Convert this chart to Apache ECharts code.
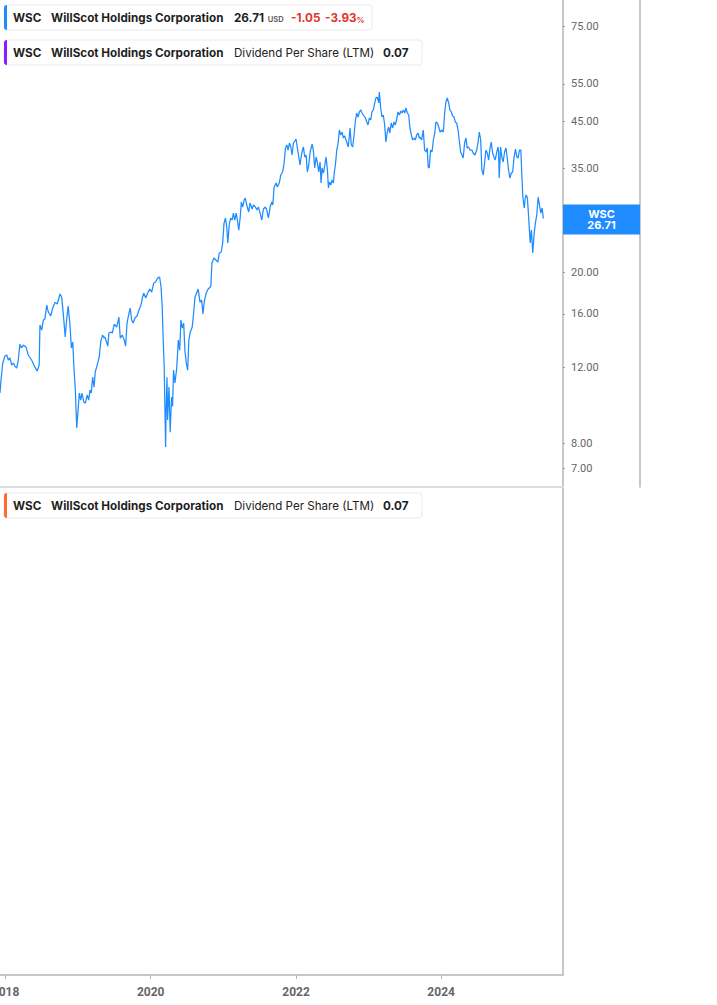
<!DOCTYPE html>
<html><head><meta charset="utf-8">
<script src="https://cdn.jsdelivr.net/npm/echarts@6/dist/echarts.min.js"></script>
<style>html,body{margin:0;padding:0;background:#fff;}#chart{width:717px;height:1005px;}</style>
</head><body><div id="chart"></div>
<script>
const ticker = 'WSC';
const companyName = 'WillScot Holdings Corporation';
const currency = 'USD';
const priceChange = -1.05;
const pctChange = -3.93;
const metricName = 'Dividend Per Share (LTM)';
const dividendLTM = 0.07;
const yTickValues = [75, 55, 45, 35, 25, 20, 16, 12, 8, 7];
const xTickLabels = ['2018', '2020', '2022', '2024'];
const xRange = ['2017-12-04', '2025-09-05'];
const yRange = [6.325, 86.23];

const dates = [
'2017-12-04','2017-12-09','2017-12-18','2017-12-29','2018-01-07','2018-01-15','2018-01-23','2018-02-01','2018-02-09','2018-02-17',
'2018-02-26','2018-03-06','2018-03-14','2018-03-22','2018-03-31','2018-04-14','2018-04-25','2018-05-12','2018-05-29','2018-06-09',
'2018-06-19','2018-06-23','2018-07-02','2018-07-10','2018-07-18','2018-07-27','2018-08-04','2018-08-16','2018-08-26','2018-09-07',
'2018-09-18','2018-10-02','2018-10-10','2018-10-18','2018-10-28','2018-11-04','2018-11-12','2018-11-21','2018-11-28','2018-12-05',
'2018-12-11','2018-12-18','2018-12-25','2018-12-31','2019-01-07','2019-01-14','2019-01-20','2019-01-30','2019-02-06','2019-02-16',
'2019-02-23','2019-03-02','2019-03-08','2019-03-15','2019-03-22','2019-03-28','2019-04-07','2019-04-17','2019-04-26','2019-05-04',
'2019-05-11','2019-05-16','2019-05-30','2019-06-05','2019-06-15','2019-06-22','2019-07-02','2019-07-14','2019-07-25','2019-08-01',
'2019-08-11','2019-08-21','2019-08-28','2019-09-04','2019-09-14','2019-09-20','2019-09-27','2019-10-05','2019-10-14','2019-10-24',
'2019-11-03','2019-11-13','2019-11-20','2019-11-27','2019-12-07','2019-12-17','2019-12-27','2020-01-06','2020-01-16','2020-01-26',
'2020-02-05','2020-02-15','2020-02-22','2020-02-28','2020-03-04','2020-03-09','2020-03-13','2020-03-16','2020-03-19','2020-03-23',
'2020-03-26','2020-04-02','2020-04-08','2020-04-15','2020-04-20','2020-04-25','2020-05-02','2020-05-11','2020-05-19','2020-05-26',
'2020-06-01','2020-06-08','2020-06-15','2020-06-21','2020-06-28','2020-07-05','2020-07-11','2020-07-18','2020-07-28','2020-08-04',
'2020-08-11','2020-08-21','2020-08-27','2020-09-05','2020-09-13','2020-09-20','2020-09-26','2020-10-06','2020-10-16','2020-10-27',
'2020-10-30','2020-11-04','2020-11-14','2020-11-24','2020-12-04','2020-12-11','2020-12-21','2020-12-28','2021-01-04','2021-01-11',
'2021-01-18','2021-01-23','2021-01-31','2021-02-07','2021-02-14','2021-02-20','2021-02-27','2021-03-06','2021-03-12','2021-03-19',
'2021-03-26','2021-04-01','2021-04-08','2021-04-15','2021-04-21','2021-04-28','2021-05-08','2021-05-15','2021-05-25','2021-06-01',
'2021-06-11','2021-06-18','2021-06-26','2021-07-04','2021-07-13','2021-07-21','2021-07-31','2021-08-07','2021-08-15','2021-08-24',
'2021-09-01','2021-09-06','2021-09-13','2021-09-23','2021-09-29','2021-10-09','2021-10-16','2021-10-26','2021-11-02','2021-11-09',
'2021-11-16','2021-11-22','2021-11-29','2021-12-06','2021-12-12','2021-12-19','2021-12-26','2022-01-01','2022-01-08','2022-01-15',
'2022-01-21','2022-01-30','2022-02-07','2022-02-14','2022-02-21','2022-02-27','2022-03-06','2022-03-13','2022-03-23','2022-03-29',
'2022-04-05','2022-04-12','2022-04-18','2022-04-25','2022-05-02','2022-05-07','2022-05-12','2022-05-19','2022-05-26','2022-06-01',
'2022-06-08','2022-06-13','2022-06-18','2022-06-25','2022-07-01','2022-07-08','2022-07-13','2022-07-18','2022-07-25','2022-08-01',
'2022-08-07','2022-08-14','2022-08-21','2022-08-27','2022-09-03','2022-09-13','2022-09-21','2022-09-30','2022-10-06','2022-10-13',
'2022-10-20','2022-10-26','2022-11-02','2022-11-09','2022-11-16','2022-11-23','2022-11-29','2022-12-06','2022-12-16','2022-12-23',
'2022-12-29','2023-01-05','2023-01-12','2023-01-18','2023-01-25','2023-02-01','2023-02-07','2023-02-14','2023-02-21','2023-02-24',
'2023-03-03','2023-03-09','2023-03-16','2023-03-23','2023-03-29','2023-04-05','2023-04-12','2023-04-18','2023-04-25','2023-05-02',
'2023-05-09','2023-05-15','2023-05-22','2023-05-29','2023-06-05','2023-06-12','2023-06-18','2023-06-25','2023-07-02','2023-07-08',
'2023-07-15','2023-07-22','2023-07-28','2023-08-04','2023-08-11','2023-08-18','2023-08-24','2023-08-31','2023-09-07','2023-09-13',
'2023-09-17','2023-09-25','2023-10-03','2023-10-10','2023-10-17','2023-10-23','2023-10-28','2023-11-02','2023-11-09','2023-11-16',
'2023-11-23','2023-11-30','2023-12-06','2023-12-13','2023-12-20','2023-12-27','2024-01-05','2024-01-12','2024-01-19','2024-01-25',
'2024-02-01','2024-02-08','2024-02-14','2024-02-21','2024-02-28','2024-03-06','2024-03-12','2024-03-19','2024-03-26','2024-04-01',
'2024-04-08','2024-04-15','2024-04-21','2024-04-28','2024-05-05','2024-05-11','2024-05-18','2024-05-25','2024-06-04','2024-06-10',
'2024-06-19','2024-06-28','2024-07-04','2024-07-11','2024-07-18','2024-07-24','2024-07-31','2024-08-07','2024-08-13','2024-08-20',
'2024-08-27','2024-09-03','2024-09-09','2024-09-16','2024-09-23','2024-09-29','2024-10-06','2024-10-13','2024-10-16','2024-10-19',
'2024-10-26','2024-11-02','2024-11-08','2024-11-15','2024-11-22','2024-11-28','2024-12-05','2024-12-12','2024-12-19','2024-12-26',
'2025-01-02','2025-01-09','2025-01-16','2025-01-22','2025-01-29','2025-02-05','2025-02-10','2025-02-15','2025-02-22','2025-02-27',
'2025-03-04','2025-03-10','2025-03-17','2025-03-24','2025-03-30','2025-04-06','2025-04-13','2025-04-19','2025-04-26','2025-05-03',
'2025-05-09','2025-05-16','2025-05-23','2025-05-29'
];
const prices = [
10.47,11.22,12.30,12.77,12.84,12.50,12.64,12.16,12.30,12.10,
11.97,12.50,13.61,13.33,13.54,13.40,12.84,12.50,12.03,11.78,
12.16,15.08,14.68,15.49,15.57,16.78,16.17,15.83,16.52,17.05,
16.87,17.81,17.52,16.08,14.14,15.49,16.69,15.08,13.33,13.76,
11.97,10.64,8.68,9.45,10.47,10.08,10.47,9.97,9.92,10.36,
10.08,10.64,10.47,11.40,10.81,11.72,12.16,12.70,13.91,14.29,
14.06,14.14,13.47,14.45,14.52,14.45,15.16,14.92,15.74,14.06,
14.29,13.91,13.47,15.24,16.08,16.52,15.49,15.24,15.66,15.83,
16.34,16.78,17.43,17.90,17.43,17.90,18.29,18.00,18.89,18.99,
19.40,19.51,18.49,16.60,13.91,12.03,9.40,7.84,9.71,11.40,
9.06,10.81,8.49,10.25,9.76,11.84,11.05,11.97,13.91,13.18,
15.49,14.84,15.24,13.18,12.30,11.84,13.91,14.52,14.92,16.08,
17.52,18.00,18.29,17.05,17.24,16.00,17.05,17.90,18.29,18.49,
18.69,21.03,21.60,21.37,21.14,22.19,22.31,23.41,26.06,26.78,
25.38,23.41,26.06,26.78,26.49,27.50,26.49,27.50,26.49,25.10,
26.78,29.18,28.40,29.49,29.81,28.71,27.65,29.02,28.10,28.71,
28.40,27.95,28.40,27.50,26.49,28.10,28.40,27.95,26.78,28.40,
29.18,28.71,31.62,32.30,31.62,32.30,33.72,34.27,35.94,38.97,
39.61,38.56,40.04,39.19,37.54,40.04,40.47,40.91,38.97,37.14,
35.58,37.95,39.19,37.14,37.54,34.27,35.58,38.15,39.82,38.56,
35.02,37.14,36.16,34.27,36.16,32.30,35.02,34.09,35.58,37.14,
34.64,31.45,32.47,31.96,32.83,32.30,34.27,35.58,38.56,40.04,
42.93,41.80,42.47,41.13,41.58,40.25,39.19,43.40,39.61,39.19,
41.80,44.82,47.03,46.03,47.29,47.80,47.03,46.53,45.79,44.82,
44.10,45.79,45.30,47.29,47.80,49.63,50.97,51.24,49.63,52.64,
48.31,46.03,46.53,44.10,40.25,42.47,43.63,42.24,44.58,43.40,
44.82,44.10,45.30,47.29,46.53,47.55,47.03,47.80,47.03,48.31,
47.03,46.53,43.40,41.80,40.69,41.13,40.69,41.80,42.24,41.13,
41.35,40.69,42.93,38.56,38.15,38.97,35.20,35.02,38.56,38.15,
40.69,42.24,44.82,44.58,43.63,42.47,42.93,42.47,47.29,49.90,
50.97,49.63,47.80,47.29,46.28,46.03,44.82,44.58,42.93,40.69,
38.15,37.54,36.94,40.04,41.13,38.97,39.19,38.56,38.56,37.95,
37.54,38.56,40.04,42.47,40.69,34.64,33.72,36.16,38.56,37.95,
36.55,38.97,40.25,37.95,37.14,36.55,37.95,39.19,38.15,33.18,
39.19,36.94,36.16,38.15,38.97,37.14,34.64,33.18,34.09,34.27,
37.14,38.76,37.14,36.94,38.56,38.56,33.72,29.97,28.25,29.81,
30.29,29.81,26.49,23.41,25.10,22.19,24.70,26.06,27.21,29.97,
28.87,27.50,28.25,26.71
];

const lineColor = '#1e8cff';
const axisGray = '#b5b5b5';
const labelGray = '#666666';
const toTime = s => Date.parse(s.length === 4 ? s + '-01-01' : s);
const yearTicks = xTickLabels.map(toTime);
const xMin = toTime(xRange[0]);
const xMax = toTime(xRange[1]);
const lastPrice = prices[prices.length - 1];

const chart = echarts.init(document.getElementById('chart'), null, { renderer: 'svg', width: 717, height: 1005 });

chart.setOption({
  animation: false,
  backgroundColor: '#ffffff',
  grid: [
    { left: 0, top: 0, width: 563, height: 487, containLabel: false, outerBoundsMode: 'none' },
    { left: 0, top: 487, width: 563, height: 488, containLabel: false, outerBoundsMode: 'none' }
  ],
  xAxis: [
    { type: 'value', gridIndex: 0, min: xMin, max: xMax,
      axisLine: { show: true, lineStyle: { color: '#dddddd', width: 2 } },
      axisTick: { show: false }, axisLabel: { show: false }, splitLine: { show: false } },
    { type: 'value', gridIndex: 1, min: xMin, max: xMax,
      axisLine: { show: true, lineStyle: { color: axisGray, width: 1.5 } },
      axisTick: { show: true, customValues: yearTicks, length: 4, lineStyle: { color: axisGray } },
      axisLabel: { show: true, customValues: yearTicks, margin: 11, color: labelGray, fontSize: 12, fontWeight: 'bold', fontFamily: 'Roboto',
        hideOverlap: false, formatter: v => String(new Date(v).getUTCFullYear()) },
      splitLine: { show: false } }
  ],
  yAxis: [
    { type: 'log', gridIndex: 0, position: 'right', min: yRange[0], max: yRange[1], logBase: 10,
      axisLine: { show: true, lineStyle: { color: axisGray, width: 1.5 } },
      axisTick: { show: true, inside: false, length: 2, customValues: yTickValues, lineStyle: { color: '#999' } },
      axisLabel: { show: true, customValues: yTickValues, margin: 8, color: labelGray, fontSize: 11, fontFamily: 'Roboto',
        formatter: v => Number(v).toFixed(2) },
      splitLine: { show: false } },
    { type: 'value', gridIndex: 0, position: 'right', offset: 77, min: 0, max: 1,
      axisLine: { show: true, lineStyle: { color: axisGray, width: 1.5 } },
      axisTick: { show: false }, axisLabel: { show: false }, splitLine: { show: false } },
    { type: 'value', gridIndex: 1, position: 'right', min: 0, max: 1,
      axisLine: { show: true, lineStyle: { color: axisGray, width: 1.5 } },
      axisTick: { show: false }, axisLabel: { show: false }, splitLine: { show: false } }
  ],
  series: [
    { name: ticker, type: 'line', xAxisIndex: 0, yAxisIndex: 0, showSymbol: false, symbol: 'none',
      lineStyle: { color: lineColor, width: 1.25 }, itemStyle: { color: lineColor },
      data: dates.map((d, i) => [toTime(d), prices[i]]) }
  ]
});

const py = chart.convertToPixel({ yAxisIndex: 0 }, lastPrice);
const font = 'Inter, "Noto Sans", sans-serif';
const red = '#e2352b';
function txt(x, y, s, opts) {
  return { type: 'text', x: x, y: y, z: 100,
    style: Object.assign({ text: s, fill: '#1f1f1f', font: 'bold 11.7px ' + font, textVerticalAlign: 'middle', textAlign: 'left' }, opts || {}) };
}
function box(y, w, barColor) {
  return [
    { type: 'rect', z: 90, shape: { x: 4, y: y, width: w, height: 25, r: 3 }, style: { fill: '#ffffff', stroke: '#ebebeb', lineWidth: 1 } },
    { type: 'rect', z: 91, shape: { x: 4, y: y, width: 3, height: 25, r: [3, 0, 0, 3] }, style: { fill: barColor } }
  ];
}
const g = [];
g.push(...box(5, 368, '#1e8cff'));
g.push(txt(13, 17.5, ticker), txt(51, 17.5, companyName),
  txt(234, 17.5, lastPrice.toFixed(2) + ' {u|' + currency + '}', {
    rich: { u: { font: '600 7.5px ' + font, fill: '#555', verticalAlign: 'bottom', padding: [0, 0, 0, 1] } } }),
  txt(291, 17.5, priceChange.toFixed(2), { fill: red }),
  txt(325, 17.5, pctChange.toFixed(2) + '{p|%}', { fill: red,
    rich: { p: { font: '600 8px ' + font, fill: red, verticalAlign: 'bottom' } } }));
g.push(...box(40, 418, '#8a1cff'));
g.push(txt(13, 52.5, ticker), txt(51, 52.5, companyName), txt(234, 52.5, metricName, { font: '11.6px ' + font, fill: '#222' }),
  txt(383, 52.5, dividendLTM.toFixed(2)));
g.push(...box(493, 418, '#ff6d2d'));
g.push(txt(13, 505.5, ticker), txt(51, 505.5, companyName), txt(234, 505.5, metricName, { font: '11.6px ' + font, fill: '#222' }),
  txt(383, 505.5, dividendLTM.toFixed(2)));
g.push({ type: 'rect', z: 95, shape: { x: 563, y: py - 14, width: 77, height: 30 }, style: { fill: '#1e8cff' } });
g.push({ type: 'text', x: 601.5, y: py + 1.5, z: 100,
  style: { text: ticker + '\n' + lastPrice.toFixed(2), fill: '#fff', font: 'bold 11px ' + font, lineHeight: 11,
    textAlign: 'center', textVerticalAlign: 'middle' } });
chart.setOption({ graphic: g });
</script>
</body></html>
